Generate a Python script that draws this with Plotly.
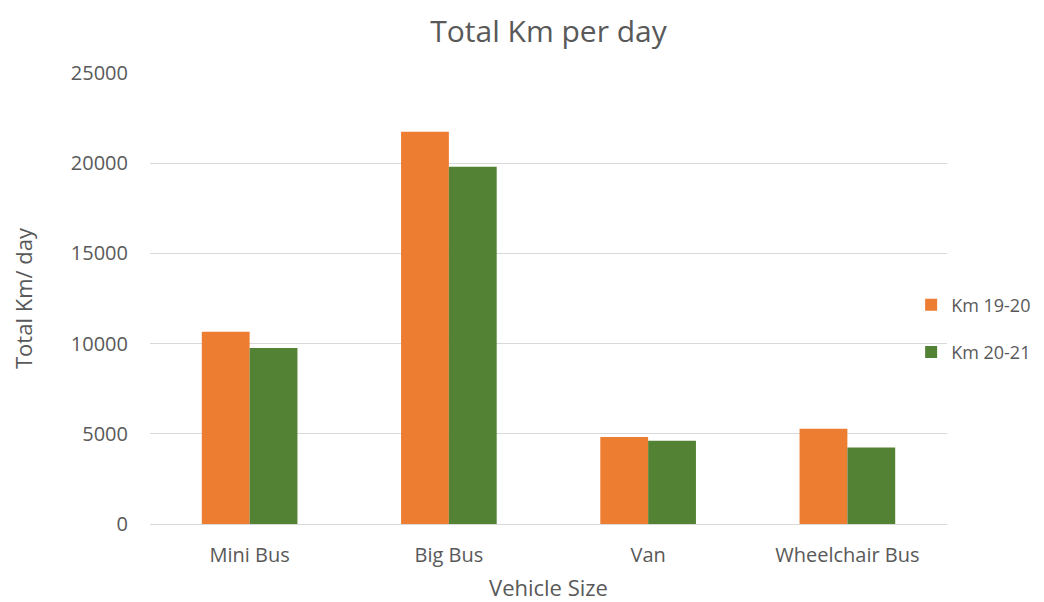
import plotly.graph_objects as go

categories = ["Mini Bus", "Big Bus", "Van", "Wheelchair Bus"]
km_19_20 = [10650, 21740, 4820, 5280]
km_20_21 = [9760, 19800, 4610, 4240]
y_ticks = [0, 5000, 10000, 15000, 20000, 25000]

TEXT = "#595959"
FONT = "'Open Sans', sans-serif"

fig = go.Figure()
fig.add_trace(go.Bar(x=categories, y=km_19_20, name="Km 19-20",
                     marker=dict(color="#ED7D31", line=dict(width=0)),
                     legendgroup="a"))
fig.add_trace(go.Bar(x=categories, y=km_20_21, name="Km 20-21",
                     marker=dict(color="#548235", line=dict(width=0)),
                     legendgroup="b"))

# the page body adds an 8px offset, so the figure is sized 8px smaller
fig.update_layout(
    width=1036, height=594,
    paper_bgcolor="white", plot_bgcolor="white",
    font=dict(family=FONT, color=TEXT, size=20),
    title=dict(text="Total Km per day", xref="paper", x=0.5, xanchor="center",
               yref="container", y=0.961, yanchor="middle",
               font=dict(size=30, color=TEXT)),
    margin=dict(l=142, r=97, t=65, b=78, autoexpand=False),
    barmode="group", bargap=0.52, bargroupgap=0,
    legend=dict(x=0.955, y=0.4335, xanchor="left", yanchor="middle",
                bgcolor="rgba(0,0,0,0)", font=dict(size=18, color=TEXT),
                tracegroupgap=21, itemwidth=30),
    showlegend=True,
)
fig.update_xaxes(
    title=dict(text="Vehicle Size", font=dict(size=22, color=TEXT), standoff=24),
    showline=True, linecolor="#D9D9D9", linewidth=1, automargin=False,
    ticks="", tickfont=dict(size=20, color=TEXT), ticklabelstandoff=13,
)
fig.update_yaxes(
    title=dict(text="Total Km/ day", font=dict(size=22, color=TEXT), standoff=37),
    range=[0, 25000], tickvals=y_ticks, ticktext=[str(v) for v in y_ticks],
    showgrid=True, gridcolor="#D9D9D9", gridwidth=1, automargin=False,
    zeroline=False, ticks="", tickfont=dict(size=20, color=TEXT),
    ticklabelstandoff=21,
)

fig.write_html("out.html")
